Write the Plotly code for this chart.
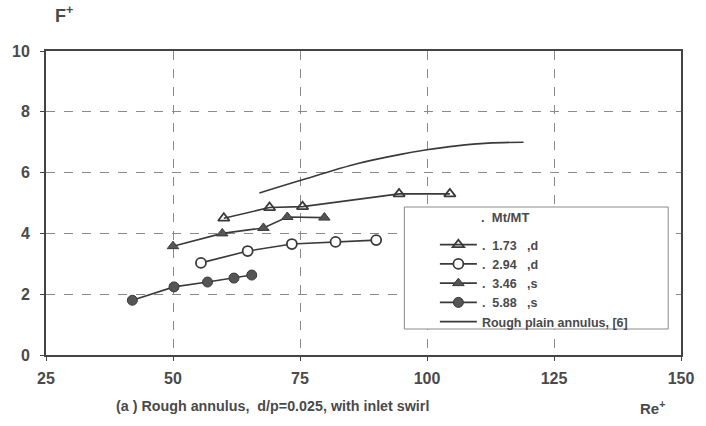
import plotly.graph_objects as go

# ---- data ----
re_173 = [60, 69, 75.5, 94.5, 104.5]
f_173 = [4.5, 4.85, 4.88, 5.3, 5.3]

re_294 = [55.5, 64.7, 73.4, 82, 90]
f_294 = [3.03, 3.42, 3.65, 3.72, 3.78]

re_346 = [50, 59.7, 67.8, 72.5, 79.8]
f_346 = [3.58, 4.0, 4.18, 4.54, 4.52]

re_588 = [42, 50.2, 56.8, 62, 65.5]
f_588 = [1.8, 2.24, 2.4, 2.53, 2.63]

re_plain = [67, 75, 86.4, 94.8, 100, 105.8, 112, 119]
f_plain = [5.33, 5.74, 6.3, 6.6, 6.75, 6.88, 6.97, 7.0]

x_ticks = [25, 50, 75, 100, 125, 150]
y_ticks = [0, 2, 4, 6, 8, 10]

NB = "\u00a0"
legend_title = "." + NB * 2 + "Mt/MT"
labels = [
    "." + NB * 2 + "1.73" + NB * 3 + ",d",
    "." + NB * 2 + "2.94" + NB * 3 + ",d",
    "." + NB * 2 + "3.46" + NB * 3 + ",s",
    "." + NB * 2 + "5.88" + NB * 3 + ",s",
    "Rough plain annulus, [6]",
]

LINE = "#3a3a3a"
TXT = "#4a4a4a"
FONT = "Liberation Sans, Arial, sans-serif"

fig = go.Figure()
fig.add_trace(go.Scatter(x=re_173, y=f_173, mode="lines+markers", name=labels[0],
                         line=dict(color=LINE, width=1.6),
                         marker=dict(symbol="triangle-up-open", size=10, color=LINE,
                                     line=dict(width=1.8, color=LINE))))
fig.add_trace(go.Scatter(x=re_294, y=f_294, mode="lines+markers", name=labels[1],
                         line=dict(color=LINE, width=1.6),
                         marker=dict(symbol="circle", size=10, color="white",
                                     line=dict(width=1.8, color=LINE))))
fig.add_trace(go.Scatter(x=re_346, y=f_346, mode="lines+markers", name=labels[2],
                         line=dict(color=LINE, width=1.6),
                         marker=dict(symbol="triangle-up", size=10, color="#555555",
                                     line=dict(width=1, color=LINE))))
fig.add_trace(go.Scatter(x=re_588, y=f_588, mode="lines+markers", name=labels[3],
                         line=dict(color=LINE, width=1.6),
                         marker=dict(symbol="circle", size=10, color="#555555",
                                     line=dict(width=1, color=LINE))))
fig.add_trace(go.Scatter(x=re_plain, y=f_plain, mode="lines", name=labels[4],
                         line=dict(color=LINE, width=1.6, shape="spline")))

# legend frame
fig.add_shape(type="rect", xref="paper", yref="paper",
              x0=(407 - 43) / 645, x1=(675 - 43) / 645,
              y0=(355 - 329) / 304, y1=(355 - 207) / 304,
              line=dict(color="#8a8a8a", width=1), fillcolor="white", layer="above")

axis_common = dict(showline=True, linecolor="#444444", linewidth=2, mirror=True,
                   showgrid=True, gridcolor="#8a8a8a", gridwidth=1, griddash="dash",
                   zeroline=False, ticks="outside", ticklen=4, tickcolor="#444444",
                   tickfont=dict(family=FONT, size=16, color=TXT, weight="bold"))

fig.update_xaxes(range=[25, 150], tickvals=x_ticks, ticklabelstandoff=4, **axis_common)
fig.update_yaxes(range=[0, 10], tickvals=y_ticks, ticklabelstandoff=7, **axis_common)

fig.update_layout(
    width=706, height=426,
    margin=dict(l=43, r=18, t=51, b=71),
    paper_bgcolor="white", plot_bgcolor="white",
    font=dict(family=FONT, color=TXT),
    showlegend=True,
    legend=dict(x=(438 - 43) / 645, y=(355 - 230) / 304, xanchor="left", yanchor="top",
                bgcolor="rgba(0,0,0,0)", borderwidth=0, itemwidth=37,
                font=dict(family=FONT, size=12.5, color=TXT, weight="bold")),
    annotations=[
        dict(text=legend_title, xref="paper", yref="paper", x=(483 - 43) / 645,
             y=(355 - 217) / 304, xanchor="left", yanchor="middle", showarrow=False,
             font=dict(family=FONT, size=13, color=TXT, weight="bold")),
        dict(text="F<sup>+</sup>", xref="paper", yref="paper", x=(50 - 43) / 645,
             y=(355 - 15) / 304, xanchor="left", yanchor="middle", showarrow=False,
             font=dict(family=FONT, size=18, color=TXT, weight="bold")),
        dict(text="(a ) Rough annulus," + NB * 2 + "d/p=0.025, with inlet swirl",
             xref="paper", yref="paper", x=(112 - 43) / 645, y=(355 - 406) / 304,
             xanchor="left", yanchor="middle", showarrow=False,
             font=dict(family=FONT, size=14.3, color=TXT, weight="bold")),
        dict(text="Re<sup>+</sup>", xref="paper", yref="paper", x=(644 - 43) / 645,
             y=(355 - 407) / 304, xanchor="left", yanchor="middle", showarrow=False,
             font=dict(family=FONT, size=15, color=TXT, weight="bold")),
    ],
)

fig.write_html("out.html", config={"displayModeBar": False},
               post_script="document.body.style.margin='0';")
